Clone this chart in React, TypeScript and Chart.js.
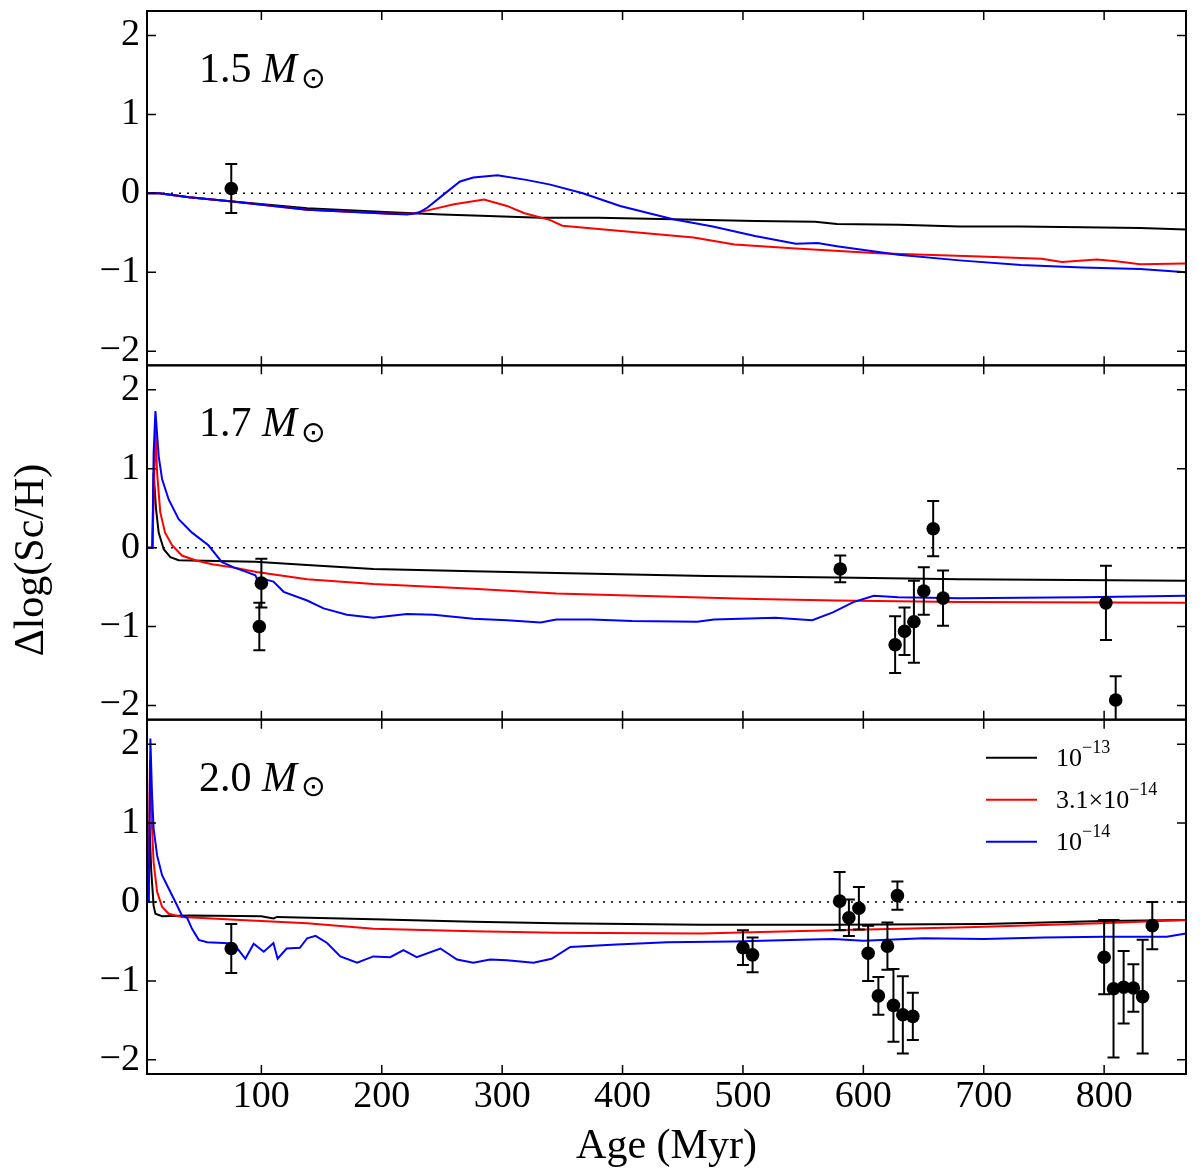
import { useEffect, useRef } from "react";
import { Chart, registerables } from "chart.js";

Chart.register(...registerables);

const SERIF = "'Liberation Serif', 'Times New Roman', serif";

const ageRange = [5, 868];
const deltaRange = [-2.18, 2.31];
const ageTicks = [100, 200, 300, 400, 500, 600, 700, 800];
const deltaTicks = [-2, -1, 0, 1, 2];

const panelIds = ["y15", "y17", "y20"];
const panelMasses = ["1.5", "1.7", "2.0"];
const legendBases = ["10", "3.1×10", "10"];
const legendExps = ["−13", "−14", "−14"];
const seriesColors = ["#000000", "#ff0000", "#0000ff"];

// observed stars: age (Myr), Δlog(Sc/H), error
const obsAge15 = [75];
const obsVal15 = [0.06];
const obsErr15 = [0.31];

const obsAge17 = [98.3, 100, 580.8, 626.4, 634.2, 642, 650.2, 658, 666.2, 801.5, 809.6];
const obsVal17 = [-1.0, -0.45, -0.27, -1.23, -1.06, -0.94, -0.55, 0.24, -0.64, -0.7, -1.93];
const obsErr17 = [0.3, 0.31, 0.17, 0.36, 0.3, 0.52, 0.3, 0.35, 0.35, 0.47, 0.3];

const obsAge20 = [75, 500, 508, 580.3, 588, 596.3, 604, 612.5, 620, 625, 628.3, 632.8, 641.1, 800, 807.8, 816.2, 824.3, 832, 840];
const obsVal20 = [-0.59, -0.58, -0.67, 0.01, -0.2, -0.08, -0.65, -1.19, -0.56, -1.31, 0.08, -1.43, -1.45, -0.7, -1.1, -1.08, -1.09, -1.2, -0.3];
const obsErr20 = [0.31, 0.22, 0.22, 0.37, 0.23, 0.27, 0.35, 0.24, 0.3, 0.46, 0.18, 0.49, 0.3, 0.47, 0.87, 0.46, 0.3, 0.72, 0.3];

// models [age, Δlog(Sc/H)]
const m15Black = [[5, 0], [15, 0], [40, -0.05], [74, -0.1], [138, -0.19], [207, -0.24], [250, -0.27], [276, -0.28], [332, -0.31], [380, -0.31], [442, -0.33], [510, -0.35], [560, -0.36], [578, -0.39], [630, -0.4], [680, -0.42], [730, -0.42], [782, -0.43], [830, -0.44], [868, -0.46]];
const m15Red = [[5, 0], [15, 0], [40, -0.05], [74, -0.1], [138, -0.21], [207, -0.26], [225, -0.26], [240, -0.21], [260, -0.14], [285, -0.08], [304, -0.16], [318, -0.25], [340, -0.34], [350, -0.41], [408, -0.49], [459, -0.56], [493, -0.65], [544, -0.7], [612, -0.76], [697, -0.8], [748, -0.83], [765, -0.87], [794, -0.84], [810, -0.86], [830, -0.9], [868, -0.89]];
const m15Blue = [[5, 0], [15, 0], [40, -0.05], [74, -0.1], [138, -0.21], [207, -0.26], [221, -0.27], [230, -0.25], [238, -0.18], [251, -0.02], [265, 0.15], [276, 0.2], [296, 0.23], [320, 0.17], [340, 0.11], [367, 0.0], [398, -0.16], [442, -0.33], [475, -0.42], [510, -0.54], [544, -0.64], [562, -0.63], [578, -0.67], [629, -0.78], [680, -0.85], [731, -0.91], [782, -0.94], [830, -0.96], [868, -1.0]];

const m17Black = [[5, 0], [9.5, 0], [10.5, 0.95], [12.5, 0.49], [14.7, 0.19], [18.9, -0.02], [24.4, -0.12], [31.3, -0.16], [95, -0.18], [138, -0.22], [193, -0.27], [276, -0.3], [345, -0.32], [470, -0.36], [578, -0.38], [680, -0.4], [868, -0.42]];
const m17Red = [[5, 0], [9.5, 0], [12, 1.5], [13.4, 0.95], [16, 0.45], [20, 0.19], [25.8, 0.03], [34, -0.1], [45, -0.16], [59, -0.21], [75.6, -0.25], [96, -0.31], [138, -0.4], [193, -0.46], [276, -0.52], [345, -0.58], [510, -0.65], [578, -0.67], [680, -0.69], [868, -0.7]];
const m17Blue = [[5, 0], [9.5, 0], [10.5, 1.2], [12, 1.73], [14.7, 1.16], [17.5, 0.87], [23, 0.61], [31.3, 0.36], [42.4, 0.19], [56, 0.03], [67, -0.18], [77, -0.25], [88, -0.31], [95, -0.35], [99, -0.48], [105, -0.41], [110, -0.43], [118.5, -0.56], [138, -0.67], [151.7, -0.77], [171, -0.85], [193, -0.89], [221, -0.84], [243, -0.85], [276, -0.9], [304, -0.92], [332, -0.95], [345, -0.91], [374, -0.91], [408, -0.93], [462, -0.94], [476, -0.91], [527, -0.89], [557.6, -0.92], [574.7, -0.82], [591.7, -0.69], [608.7, -0.61], [629, -0.63], [680, -0.64], [782, -0.63], [868, -0.61]];

const m20Black = [[5, 0], [6, 0], [7, 1.0], [8.5, 0.4], [10.5, -0.05], [12, -0.15], [17.5, -0.18], [40, -0.17], [100, -0.18], [110, -0.21], [113, -0.19], [193, -0.22], [276, -0.25], [345, -0.27], [465, -0.29], [575, -0.29], [700, -0.28], [800, -0.24], [868, -0.23]];
const m20Red = [[5, 0], [6, 0], [7.5, 1.8], [9, 1.0], [10.5, 0.5], [13.4, 0.13], [17.5, -0.06], [23, -0.15], [34, -0.19], [59, -0.21], [83, -0.23], [138, -0.27], [193, -0.34], [276, -0.37], [345, -0.39], [465, -0.4], [575, -0.36], [686, -0.32], [797, -0.27], [868, -0.23]];
const m20Blue = [[5, 0], [6.5, 0], [7.8, 2.07], [9.2, 1.35], [10.5, 0.93], [13.4, 0.59], [17.5, 0.34], [23, 0.17], [28.6, 0.0], [34, -0.17], [38.3, -0.2], [42.4, -0.34], [48, -0.48], [55, -0.51], [68.7, -0.52], [77, -0.53], [86.7, -0.72], [93.6, -0.53], [102, -0.63], [110, -0.52], [113.5, -0.72], [121, -0.59], [132, -0.58], [138, -0.46], [145, -0.43], [154.6, -0.52], [165.6, -0.69], [179.5, -0.77], [193, -0.69], [207, -0.7], [218, -0.61], [229, -0.7], [248.7, -0.59], [262.5, -0.73], [276, -0.77], [290, -0.73], [304, -0.74], [326, -0.77], [341, -0.72], [356.6, -0.57], [395, -0.54], [437, -0.51], [492, -0.5], [548, -0.48], [575, -0.47], [600, -0.49], [650, -0.46], [700, -0.47], [750, -0.45], [800, -0.44], [852, -0.44], [868, -0.4]];

const toXY = (pairs: number[][]) => pairs.map(([x, y]) => ({ x, y }));
const minus = (v: number) => (v < 0 ? "\u2212" + Math.abs(v) : String(v));

const modelsByPanel = [
  [m15Black, m15Red, m15Blue],
  [m17Black, m17Red, m17Blue],
  [m20Black, m20Red, m20Blue],
];
const obsByPanel = [
  [obsAge15, obsVal15, obsErr15],
  [obsAge17, obsVal17, obsErr17],
  [obsAge20, obsVal20, obsErr20],
];

function buildDatasets() {
  const sets: any[] = [];
  // first dataset is drawn on top
  obsByPanel.forEach(([ages, vals, errs], p) => {
    sets.push({
      data: ages.map((a, i) => ({ x: a, y: vals[i] })),
      errors: errs,
      yAxisID: panelIds[p],
      showLine: false,
      pointRadius: 6.8,
      pointBackgroundColor: "#000",
      pointBorderWidth: 0,
    });
  });
  for (let s = 2; s >= 0; s--) {
    modelsByPanel.forEach((models, p) => {
      sets.push({
        data: toXY(models[s]),
        yAxisID: panelIds[p],
        showLine: true,
        borderColor: seriesColors[s],
        borderWidth: 2,
        pointRadius: 0,
      });
    });
  }
  panelIds.forEach((id) => {
    sets.push({
      data: toXY([[ageRange[0], 0], [ageRange[1], 0]]),
      yAxisID: id,
      showLine: true,
      borderColor: "#000",
      borderWidth: 1.5,
      borderDash: [2, 6],
      pointRadius: 0,
    });
  });
  return sets;
}

function yAxis(weight: number) {
  return {
    type: "linear",
    position: "left",
    stack: "panels",
    stackWeight: 1,
    weight,
    min: deltaRange[0],
    max: deltaRange[1],
    grid: { display: false, drawTicks: false },
    border: { display: false },
    ticks: {
      color: "#000",
      padding: 7,
      font: { family: SERIF, size: 38, lineHeight: 1 },
      callback: (v: number) => minus(v),
    },
    afterBuildTicks: (s: any) => {
      s.ticks = deltaTicks.map((v) => ({ value: v }));
    },
    afterFit: (s: any) => {
      s.width = 147;
      s.paddingTop = 0;
      s.paddingBottom = 0;
    },
  };
}

const panelsPlugin = {
  id: "panels",
  beforeDatasetDraw(chart: any, args: any) {
    const { ctx, chartArea } = chart;
    const ys = chart.scales[args.meta.yAxisID];
    const xs = chart.scales.x;
    ctx.save();
    ctx.beginPath();
    ctx.rect(chartArea.left, ys.top, chartArea.right - chartArea.left, ys.bottom - ys.top);
    ctx.clip();
    const ds = chart.data.datasets[args.index];
    if (ds.errors) {
      ctx.strokeStyle = "#000";
      ctx.lineWidth = 2;
      ds.data.forEach((pt: any, i: number) => {
        const e = ds.errors[i];
        const x = xs.getPixelForValue(pt.x);
        const y1 = ys.getPixelForValue(pt.y + e);
        const y2 = ys.getPixelForValue(pt.y - e);
        ctx.beginPath();
        ctx.moveTo(x, y1);
        ctx.lineTo(x, y2);
        ctx.moveTo(x - 6, y1);
        ctx.lineTo(x + 6, y1);
        ctx.moveTo(x - 6, y2);
        ctx.lineTo(x + 6, y2);
        ctx.stroke();
      });
    }
  },
  afterDatasetDraw(chart: any) {
    chart.ctx.restore();
  },
  afterDraw(chart: any) {
    const { ctx, chartArea } = chart;
    const xs = chart.scales.x;
    const L = chartArea.left;
    const R = chartArea.right;
    ctx.save();
    ctx.strokeStyle = "#000";
    ctx.fillStyle = "#000";
    panelIds.forEach((id, p) => {
      const ys = chart.scales[id];
      const T = ys.top;
      const B = ys.bottom;
      ctx.lineWidth = 1.5;
      ctx.beginPath();
      ageTicks.forEach((v) => {
        const x = xs.getPixelForValue(v);
        ctx.moveTo(x, B);
        ctx.lineTo(x, B - 9);
        ctx.moveTo(x, T);
        ctx.lineTo(x, T + 9);
      });
      deltaTicks.forEach((v) => {
        const y = ys.getPixelForValue(v);
        ctx.moveTo(L, y);
        ctx.lineTo(L + 9, y);
        ctx.moveTo(R, y);
        ctx.lineTo(R - 9, y);
      });
      ctx.stroke();
      ctx.lineWidth = 2;
      ctx.strokeRect(L, T, R - L, B - T);

      // panel mass label
      const base = T + 71;
      ctx.textAlign = "left";
      ctx.textBaseline = "alphabetic";
      ctx.font = `42px ${SERIF}`;
      const num = panelMasses[p] + " ";
      ctx.fillText(num, 199, base);
      const mx = 199 + ctx.measureText(num).width;
      ctx.font = `italic 42px ${SERIF}`;
      ctx.fillText("M", mx, base);
      ctx.font = "28px 'DejaVu Sans'";
      let m = ctx.measureText("\u2299");
      const size = (28 * 20) / (m.actualBoundingBoxAscent + m.actualBoundingBoxDescent);
      ctx.font = `${size}px 'DejaVu Sans'`;
      m = ctx.measureText("\u2299");
      const cy = T + 67.5;
      ctx.fillText(
        "\u2299",
        303 + m.actualBoundingBoxLeft,
        cy + (m.actualBoundingBoxAscent - m.actualBoundingBoxDescent) / 2
      );
    });

    // legend in the bottom panel
    const lp = chart.scales[panelIds[2]];
    [38, 80, 122].forEach((dy, i) => {
      const cy = lp.top + dy;
      ctx.strokeStyle = seriesColors[i];
      ctx.lineWidth = 2;
      ctx.beginPath();
      ctx.moveTo(986, cy);
      ctx.lineTo(1037, cy);
      ctx.stroke();
      ctx.textAlign = "left";
      ctx.textBaseline = "alphabetic";
      ctx.font = `26px ${SERIF}`;
      ctx.fillText(legendBases[i], 1056, cy + 8);
      const w = ctx.measureText(legendBases[i]).width;
      ctx.font = `18px ${SERIF}`;
      ctx.fillText(legendExps[i], 1056 + w, cy - 5);
    });

    // axis titles
    ctx.fillStyle = "#000";
    ctx.font = `42px ${SERIF}`;
    ctx.textAlign = "center";
    ctx.textBaseline = "alphabetic";
    ctx.fillText("Age (Myr)", (L + R) / 2, 1158);
    ctx.translate(32, 560);
    ctx.rotate(-Math.PI / 2);
    ctx.textBaseline = "middle";
    ctx.fillText("\u0394log(Sc/H)", 0, 0);
    ctx.restore();
  },
};

export default function App() {
  const canvasRef = useRef<HTMLCanvasElement | null>(null);

  useEffect(() => {
    if (!canvasRef.current) return;

    const chart = new Chart(canvasRef.current, {
      type: "scatter",
      data: { datasets: buildDatasets() },
      options: {
        responsive: true,
        maintainAspectRatio: false,
        animation: false,
        layout: { padding: { left: 0, top: 11, right: 14, bottom: 0 } },
        plugins: {
          legend: { display: false },
          tooltip: { enabled: false },
        },
        scales: {
          x: {
            type: "linear",
            position: "bottom",
            min: ageRange[0],
            max: ageRange[1],
            grid: { display: false, drawTicks: false },
            border: { display: false },
            ticks: {
              color: "#000",
              padding: 4,
              maxRotation: 0,
              font: { family: SERIF, size: 38, lineHeight: 1 },
            },
            afterBuildTicks: (s: any) => {
              s.ticks = ageTicks.map((v) => ({ value: v }));
            },
            afterFit: (s: any) => {
              s.height = 102;
              s.paddingLeft = 0;
              s.paddingRight = 0;
            },
          },
          y20: yAxis(1),
          y17: yAxis(2),
          y15: yAxis(3),
        } as any,
      },
      plugins: [panelsPlugin],
    } as any);

    return () => chart.destroy();
  }, []);

  return (
    <div style={{ position: "fixed", left: 0, top: 0, width: 1200, height: 1176, background: "#fff" }}>
      <canvas ref={canvasRef} />
    </div>
  );
}
